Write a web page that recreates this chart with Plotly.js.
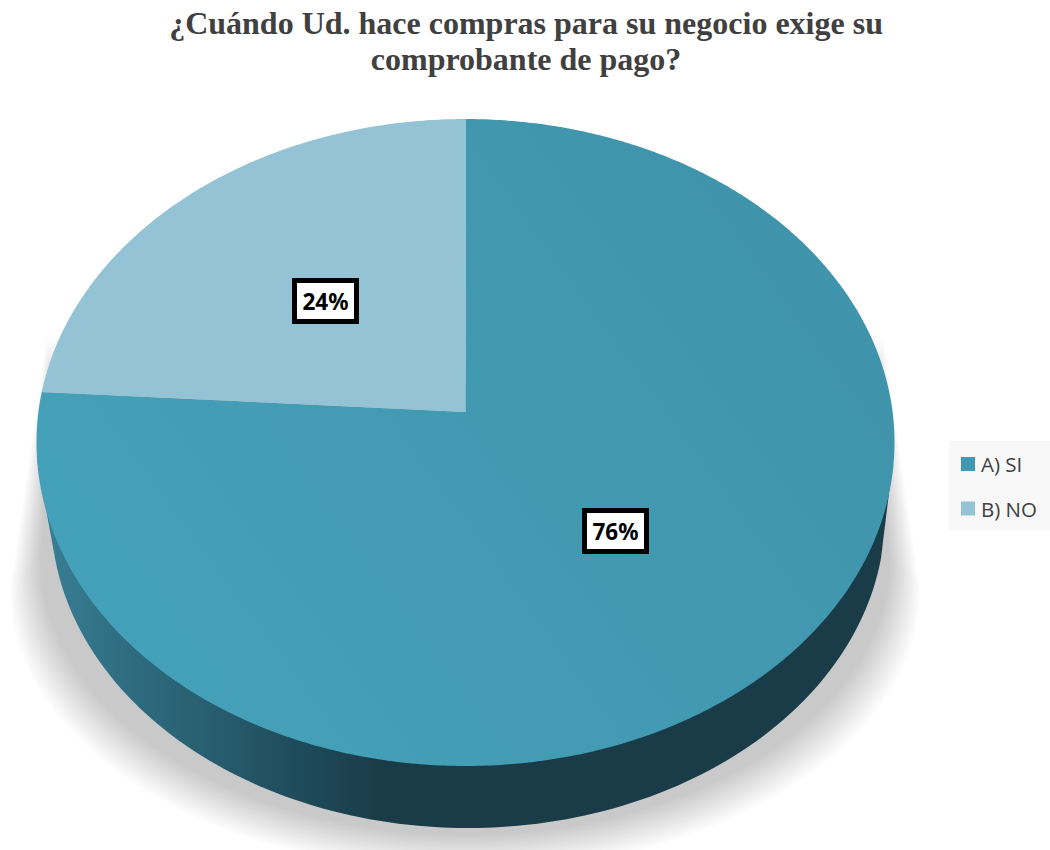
<!DOCTYPE html>
<html>
<head>
<meta charset="utf-8">
<script src="https://cdn.plot.ly/plotly-3.0.1.min.js"></script>
<style>html,body{margin:0;padding:0;background:#fff;overflow:hidden}#chart{width:1050px;height:850px}</style>
</head>
<body>
<div id="chart"></div>
<script>
const chartTitle = "¿Cuándo Ud. hace compras para su negocio exige su<br>comprobante de pago?";
const categories = ["A) SI", "B) NO"];
const values = [76, 24];
const sliceColors = ["#4199b1", "#94c3d5"];
const labelCenters = [[615.5, 531], [325.5, 300.5]];

// perspective projection of the pie's unit disc on to the page
const apexX = 465.5, apexY = 412, k = 0.0943, a = 427.1, b = 320.6;
function project(u, v) {
  const w = 1 + k * v;
  return [apexX + a * u / w, apexY - b * v / w];
}
function ellipseArc(cx, cy, rx, ry, from, to) {
  const xs = [], ys = [];
  for (let i = 0; i <= 120; i++) {
    const t = (from + (to - from) * i / 120) * Math.PI / 180;
    xs.push(cx + rx * Math.cos(t));
    ys.push(cy + ry * Math.sin(t));
  }
  return [xs, ys];
}
const area = (xs, ys, extra) => Object.assign({
  type: "scatter", mode: "none", fill: "toself", x: xs, y: ys,
  showlegend: false, hoverinfo: "skip"
}, extra);

const traces = [];
// soft shadow: nested translucent outlines from the faint edge inwards
const shadowLayers = 18;
for (let n = 0; n < shadowLayers; n++) {
  const t = n / (shadowLayers - 1);
  const [xs, ys] = ellipseArc(465, 590 - 30 * t, 455 - 30 * t, 282 - 7 * t, 180, 0);
  xs.unshift(46 + 6 * t); ys.unshift(340 + 60 * t);
  xs.push(884 - 6 * t); ys.push(340 + 60 * t);
  traces.push(area(xs, ys, {fillcolor: "rgba(0,0,0,0.0125)"}));
}
// side wall of the disc
const wall = ellipseArc(468, 515, 417, 313, 8, 172);
wall[0].unshift(893); wall[1].unshift(460);
wall[0].push(37); wall[1].push(460);
traces.push(area(wall[0], wall[1], {
  fillgradient: {type: "horizontal", colorscale: [
    [0, "#3a8096"], [0.1, "#2f6d81"], [0.2, "#285e70"], [0.3, "#1f4c5c"], [0.4, "#1a3c48"], [1, "#1a3c48"]
  ]}
}));
// the pie itself
traces.push({
  type: "pie", labels: categories, values: values, sort: false, direction: "clockwise", rotation: 0,
  marker: {colors: sliceColors, line: {width: 0}}, textinfo: "none", hoverinfo: "label+percent",
  domain: {x: [0.1, 0.8], y: [0.1, 0.9]}
});

const total = values.reduce((s, v) => s + v, 0);
const annotations = values.map((v, i) => ({
  x: labelCenters[i][0], y: labelCenters[i][1], xref: "x", yref: "y", showarrow: false,
  text: "<b>" + Math.round(v / total * 100) + "%</b>",
  font: {family: "Noto Sans, Open Sans, sans-serif", size: 22.5, color: "#000"},
  bgcolor: "#ffffff", bordercolor: "#000000", borderwidth: 5, borderpad: 0, width: 57, height: 36
}));

const layout = {
  width: 1050, height: 850, margin: {l: 0, r: 0, t: 0, b: 0},
  paper_bgcolor: "#fff", plot_bgcolor: "#fff",
  xaxis: {range: [0, 1050], visible: false, fixedrange: true},
  yaxis: {range: [850, 0], visible: false, fixedrange: true},
  title: {text: chartTitle, x: 0.501, xanchor: "center", y: 0.96, yanchor: "middle",
    font: {family: "Liberation Serif, serif", size: 32, color: "#404040", weight: 700}},
  showlegend: true,
  legend: {x: 1, xanchor: "right", y: 0.48, yanchor: "top", bgcolor: "#f8f8f8", borderwidth: 0,
    font: {family: "Open Sans, sans-serif", size: 20.5, color: "#404040"}},
  annotations: annotations
};

Plotly.newPlot("chart", traces, layout, {displayModeBar: false, staticPlot: true}).then(gd => {
  // 1. slices: same values, seen in the reference's perspective
  const svg = gd.querySelector(".main-svg");
  const ns = "http://www.w3.org/2000/svg";
  const defs = svg.querySelector("defs") || svg.appendChild(document.createElementNS(ns, "defs"));
  const grad = document.createElementNS(ns, "linearGradient");
  grad.id = "sliceShade";
  grad.setAttribute("gradientUnits", "userSpaceOnUse");
  [["x1", 100], ["y1", 750], ["x2", 850], ["y2", 200]].forEach(p => grad.setAttribute(p[0], p[1]));
  [[0, "#45a2ba"], [1, "#3f93aa"]].forEach(s => {
    const st = document.createElementNS(ns, "stop");
    st.setAttribute("offset", s[0]); st.setAttribute("stop-color", s[1]);
    grad.appendChild(st);
  });
  defs.appendChild(grad);

  let cum = 0;
  gd.querySelectorAll(".pielayer .slice").forEach((g, i) => {
    const start = cum / total * 2 * Math.PI;
    cum += values[i];
    const end = cum / total * 2 * Math.PI;
    let d = "M" + project(0, 0).join(",");
    const steps = Math.ceil((end - start) / 0.01);
    for (let s = 0; s <= steps; s++) {
      const th = start + (end - start) * s / steps;
      d += "L" + project(Math.sin(th), Math.cos(th)).join(",");
    }
    const path = g.querySelector("path.surface");
    path.setAttribute("d", d + "Z");
    path.removeAttribute("transform");
    g.removeAttribute("transform");
    let p = g.parentNode;
    while (p && !p.classList.contains("pielayer")) { p.removeAttribute("transform"); p = p.parentNode; }
    if (i === 0) path.style.fill = "url(#sliceShade)";
  });

  // 2. legend box and spacing
  const legend = gd.querySelector(".legend");
  legend.setAttribute("transform", "translate(949,441)");
  const bg = legend.querySelector(".bg");
  bg.setAttribute("width", 101); bg.setAttribute("height", 89);
  bg.setAttribute("x", 0); bg.setAttribute("y", 0);
  const clip = document.querySelector("clipPath[id^='legend'] rect");
  if (clip) { clip.setAttribute("width", 101); clip.setAttribute("height", 89); clip.setAttribute("x", 0); clip.setAttribute("y", 0); }
  const sb = legend.querySelector(".scrollbox");
  if (sb) sb.setAttribute("transform", "translate(0,0)");
  legend.querySelectorAll(".traces").forEach((tr, i) => {
    tr.setAttribute("transform", "translate(0," + [23, 67.5][i] + ")");
    const txt = tr.querySelector(".legendtext");
    txt.setAttribute("x", 32);
    const sw = tr.querySelector(".legendpie");
    if (sw) { sw.setAttribute("d", "M7,7V-7H-7V7Z"); sw.setAttribute("transform", "translate(19,0)"); }
  });

  // 3. title line spacing
  const lines = gd.querySelectorAll(".gtitle tspan.line");
  if (lines[1]) lines[1].setAttribute("dy", "36px");
});
</script>
</body>
</html>
